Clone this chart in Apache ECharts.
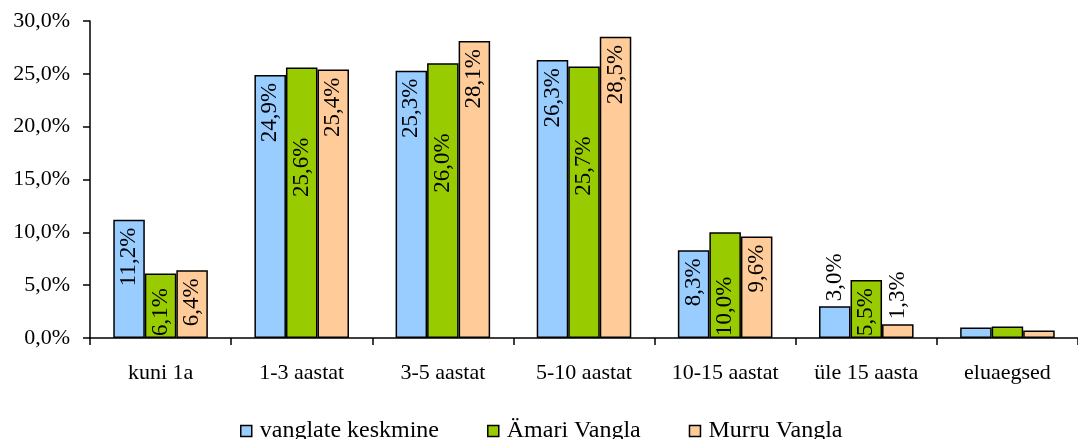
<!DOCTYPE html>
<html>
<head>
<meta charset="utf-8">
<script src="https://cdn.jsdelivr.net/npm/echarts@6/dist/echarts.min.js"></script>
<style>html,body{margin:0;padding:0;background:#fff}#c{width:1078px;height:439px}</style>
</head>
<body>
<div id="c"></div>
<script>
const categories = ['kuni 1a', '1-3 aastat', '3-5 aastat', '5-10 aastat', '10-15 aastat', 'üle 15 aasta', 'eluaegsed'];
const seriesNames = ['vanglate keskmine', 'Ämari Vangla', 'Murru Vangla'];
const avgValues = [11.2, 24.9, 25.3, 26.3, 8.3, 3.0, 1.0];
const amariValues = [6.1, 25.6, 26.0, 25.7, 10.0, 5.5, 1.1];
const murruValues = [6.4, 25.4, 28.1, 28.5, 9.6, 1.3, 0.7];
const yTicks = [0, 5, 10, 15, 20, 25, 30];

const FONT = 'Liberation Serif';
const fmt = v => v.toFixed(1).replace('.', ',') + '%';

const lblBase = { show: true, rotate: 90, verticalAlign: 'middle', color: '#000', fontFamily: FONT, fontSize: 23,
  formatter: p => fmt(p.value) };
const topIn = Object.assign({}, lblBase, { position: 'insideTop', distance: 8, align: 'right' });
const outTop = Object.assign({}, lblBase, { position: 'top', distance: 5, align: 'left' });
const botIn = Object.assign({}, lblBase, { position: 'insideBottom', distance: 2, align: 'left' });
const midIn = Object.assign({}, lblBase, { position: 'insideTop', distance: 70, align: 'right' });
const none = { show: false };

function build(vals, chooser) {
  return vals.map((v, i) => ({ value: v, label: chooser(v, i) }));
}
const last = categories.length - 1;
const avgData = build(avgValues, (v, i) => i === last ? none : (v < 5 ? outTop : topIn));
const amariData = build(amariValues, (v, i) => i === last ? none : (v > 20 ? midIn : botIn));
const murruData = build(murruValues, (v, i) => i === last ? none : (v < 5 ? outTop : topIn));

const colors = ['#99CCFF', '#99CC00', '#FFCC99'];
const chart = echarts.init(document.getElementById('c'), null, { renderer: 'canvas' });
const mk = (name, data, c) => ({
  name, type: 'bar', data, barGap: '0%', barCategoryGap: '33%',
  itemStyle: { color: c, borderColor: '#000', borderWidth: 1.5 },
  emphasis: { disabled: true }
});
chart.setOption({
  animation: false,
  textStyle: { fontFamily: FONT },
  grid: { left: 90, right: 0, top: 21, bottom: 101, containLabel: false },
  legend: {
    bottom: -9, left: 235, itemGap: 48, itemWidth: 11, itemHeight: 11,
    icon: 'rect',
    itemStyle: { borderColor: '#000', borderWidth: 1.5 },
    textStyle: { fontFamily: FONT, fontSize: 24, color: '#000', padding: [0, 0, 0, 3] },
    data: seriesNames
  },
  xAxis: {
    type: 'category', data: categories,
    axisLine: { lineStyle: { color: '#000', width: 1.5 } },
    axisTick: { show: true, interval: 0, alignWithLabel: false, length: 7, lineStyle: { color: '#000', width: 1.5 } },
    axisLabel: { interval: 0, hideOverlap: false, color: '#000', fontFamily: FONT, fontSize: 22, margin: 24 }
  },
  yAxis: {
    type: 'value', min: yTicks[0], max: yTicks[yTicks.length - 1], interval: 5,
    axisLine: { show: true, lineStyle: { color: '#000', width: 1.5 } },
    axisTick: { show: true, length: 7, lineStyle: { color: '#000', width: 1.5 } },
    splitLine: { show: false },
    axisLabel: { color: '#000', fontFamily: FONT, fontSize: 22, margin: 20, formatter: v => fmt(v) }
  },
  series: [
    mk(seriesNames[0], avgData, colors[0]),
    mk(seriesNames[1], amariData, colors[1]),
    mk(seriesNames[2], murruData, colors[2])
  ]
});
</script>
</body>
</html>
